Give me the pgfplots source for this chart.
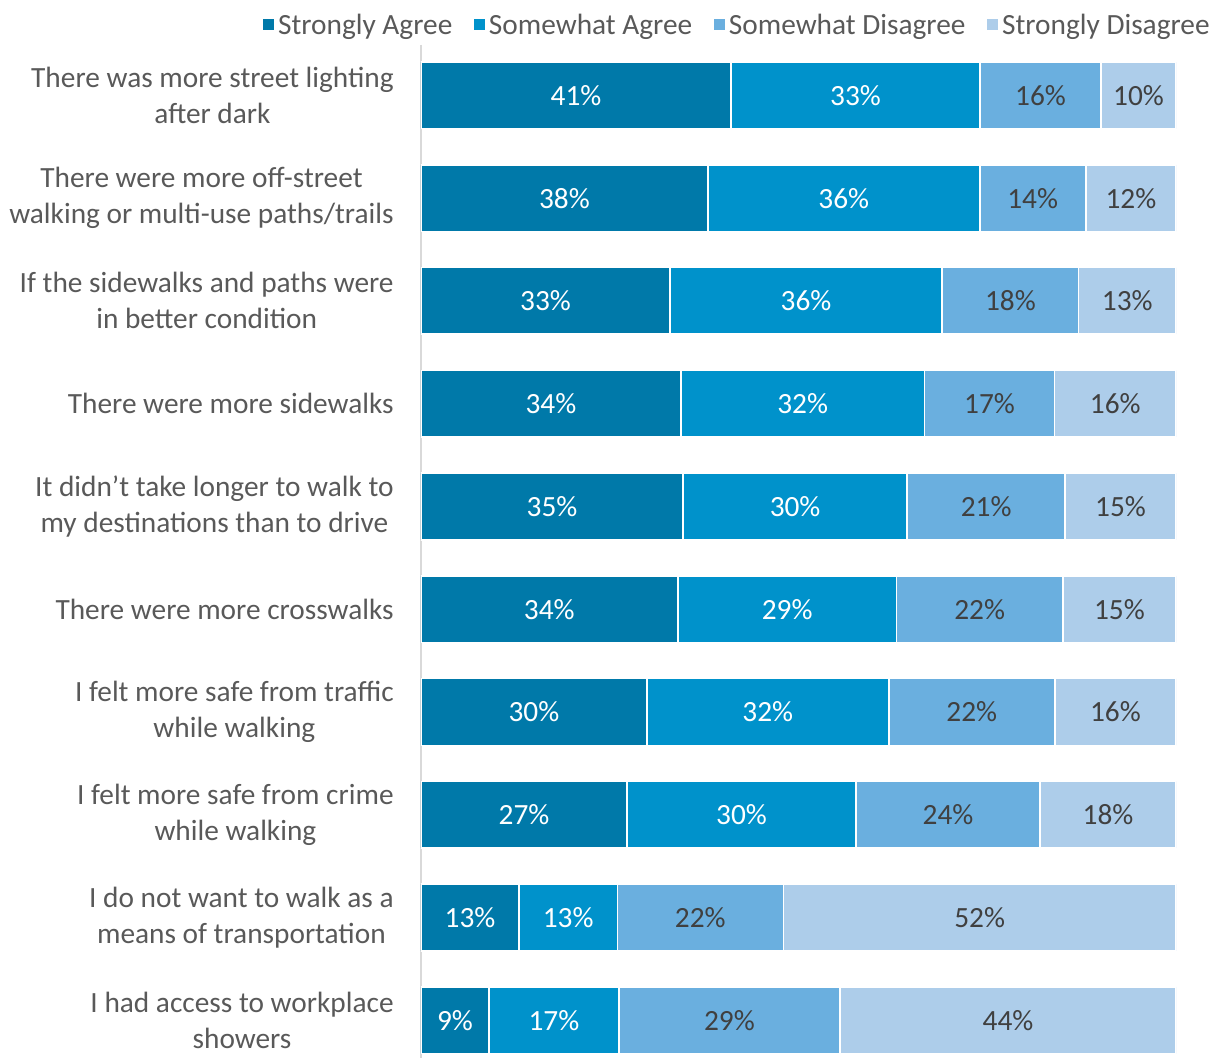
\documentclass[border=0pt]{standalone}
\usepackage{fontspec}
\setmainfont{Carlito}
\usepackage{pgfplots}
\pgfplotsset{compat=1.18}

\definecolor{sagree}{HTML}{0079A9}
\definecolor{wagree}{HTML}{0092CB}
\definecolor{wdis}{HTML}{6AAFDF}
\definecolor{sdis}{HTML}{ADCDEA}
\definecolor{txt}{HTML}{595959}
\definecolor{dark}{HTML}{404040}

\begin{document}
\begin{tikzpicture}
\begin{axis}[
  name=ax,
  scale only axis, width=566.25pt, height=760pt,
  xbar stacked, bar width=50pt,
  xmin=0, xmax=100, hide x axis,
  y dir=reverse, ymin=-0.49, ymax=9.37,
  axis y line*=left, axis line style={-, draw=black!15, line width=1.5pt},
  ytick={0,...,9}, major tick length=0pt, ytick style={draw=none},
  yticklabels={
    {There was more street lighting\\after dark},
    {There were more off-street\\walking or multi-use paths/trails},
    {If the sidewalks and paths were\\in better condition},
    {There were more sidewalks},
    {It didn’t take longer to walk to\\my destinations than to drive},
    {There were more crosswalks},
    {I felt more safe from traffic\\while walking},
    {I felt more safe from crime\\while walking},
    {I do not want to walk as a\\means of transportation},
    {I had access to workplace\\showers}},
  yticklabel style={align=center, text=txt, font=\fontsize{22}{27}\selectfont, xshift=-17pt},
  every axis plot/.append style={draw=white, line width=1.2pt},
  point meta=explicit symbolic,
  nodes near coords={\pgfplotspointmeta\%},
  every node near coord/.append style={anchor=center, font=\fontsize{22}{26}\selectfont},
  legend columns=4,
  legend style={draw=none, fill=none, at={(1.0503,1.0197)}, anchor=east,
    font=\fontsize{22}{26}\selectfont, text=txt, inner sep=0pt,
    nodes={inner xsep=3pt},
    /tikz/every even column/.append style={column sep=13pt}},
  legend image code/.code={\fill[#1, draw=none] (0pt,-4pt) rectangle (8.5pt,4.5pt);},
]
\addplot[fill=sagree, every node near coord/.append style={text=white}] coordinates {
  (41.06,0) [41] (38.0,1) [38] (32.98,2) [33] (34.4,3) [34] (34.7,4) [35]
  (34.0,5) [34] (29.9,6) [30] (27.3,7) [27] (13.0,8) [13] (9.0,9) [9]};
\addplot[fill=wagree, every node near coord/.append style={text=white}] coordinates {
  (32.98,0) [33] (36.0,1) [36] (36.03,2) [36] (32.3,3) [32] (29.7,4) [30]
  (29.0,5) [29] (32.05,6) [32] (30.3,7) [30] (13.0,8) [13] (17.2,9) [17]};
\addplot[fill=wdis, every node near coord/.append style={text=dark}] coordinates {
  (16.03,0) [16] (14.04,1) [14] (18.1,2) [18] (17.2,3) [17] (20.9,4) [21]
  (22.0,5) [22] (22.0,6) [22] (24.4,7) [24] (22.0,8) [22] (29.3,9) [29]};
\addplot[fill=sdis, every node near coord/.append style={text=dark}] coordinates {
  (9.93,0) [10] (11.96,1) [12] (12.89,2) [13] (16.1,3) [16] (14.7,4) [15]
  (15.0,5) [15] (16.05,6) [16] (18.0,7) [18] (52.0,8) [52] (44.5,9) [44]};
\legend{Strongly Agree, Somewhat Agree, Somewhat Disagree, Strongly Disagree}
\end{axis}
\pgfresetboundingbox
\path ([shift={(-315.75pt,-2.25pt)}]ax.south west) rectangle ([shift={(29.25pt,33.75pt)}]ax.north east);
\end{tikzpicture}
\end{document}
